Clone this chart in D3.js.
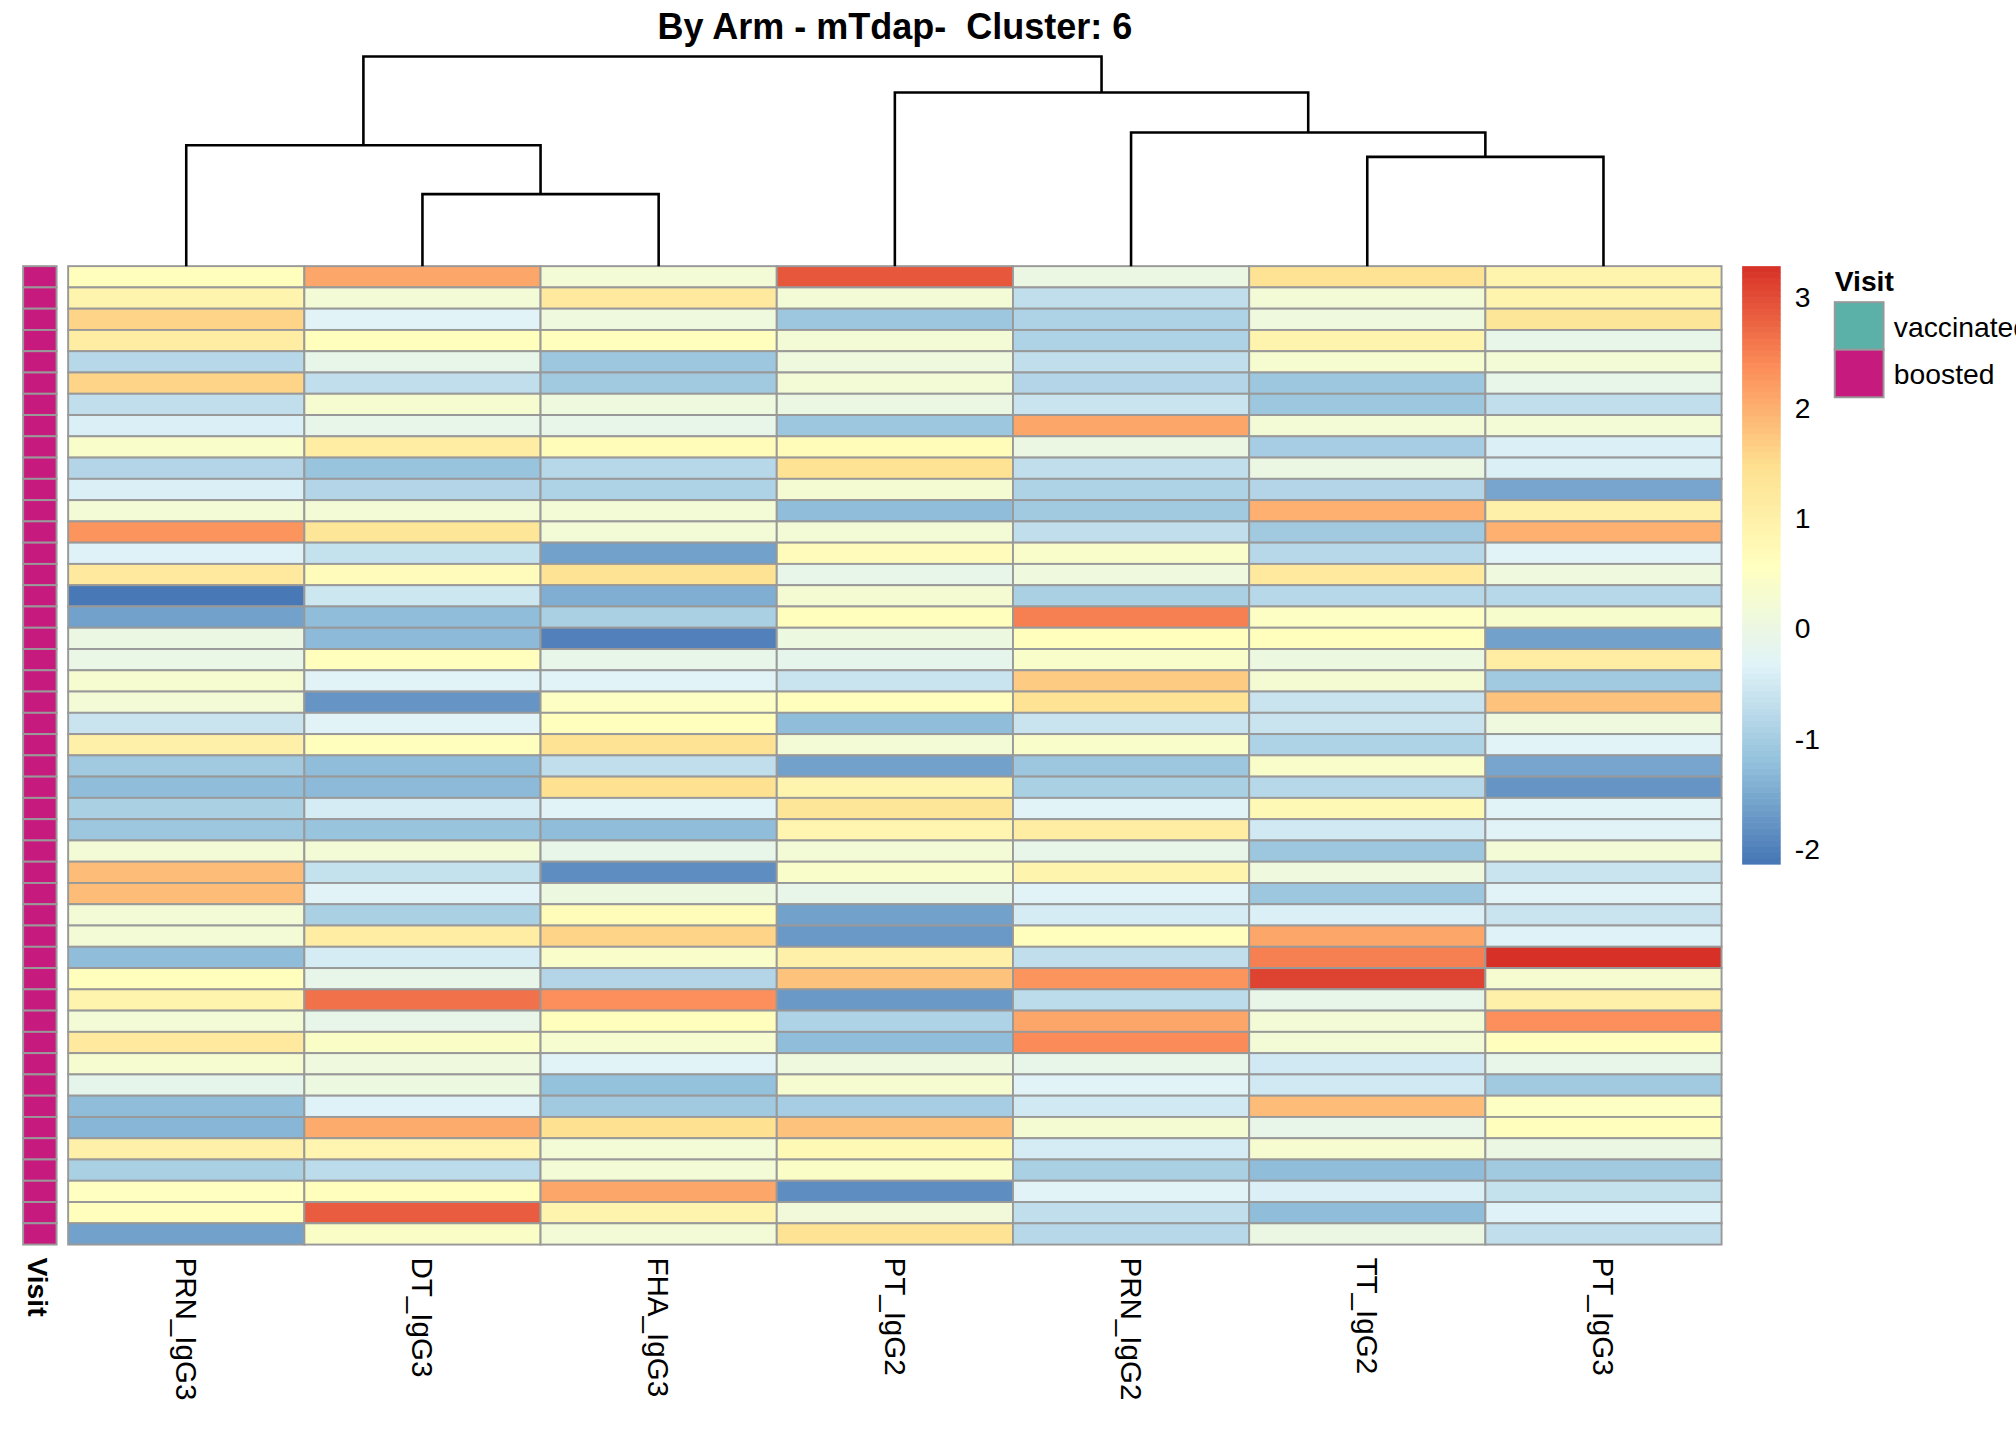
<!DOCTYPE html>
<html>
<head>
<meta charset="utf-8">
<script src="https://cdn.jsdelivr.net/npm/d3@7"></script>
<style>
  body { margin: 0; background: #fff; }
  text { font-family: "Liberation Sans", Arial, sans-serif; }
</style>
</head>
<body>
<svg id="chart"></svg>
<script>
// column labels, in dendrogram order
const columns = ['PRN_IgG3', 'DT_IgG3', 'FHA_IgG3', 'PT_IgG2', 'PRN_IgG2', 'TT_IgG2', 'PT_IgG3'];

// one row per sample, values per column (scaled)
const values = [
  [0.6, 2.1, 0.2, 2.9, 0.0, 1.4, 0.9],
  [0.9, 0.2, 1.2, 0.2, -0.7, 0.2, 0.9],
  [1.6, -0.3, 0.1, -1.1, -0.9, 0.1, 1.3],
  [1.1, 0.6, 0.6, 0.2, -0.9, 0.9, -0.1],
  [-0.8, -0.1, -1.1, 0.1, -0.7, 0.3, 0.2],
  [1.6, -0.7, -1.05, 0.2, -0.85, -1.1, -0.1],
  [-0.7, 0.3, 0.1, 0.0, -0.6, -1.1, -0.7],
  [-0.4, -0.1, -0.1, -1.1, 2.1, 0.2, 0.2],
  [0.4, 1.1, 0.7, 0.7, 0.0, -1.0, -0.4],
  [-0.85, -1.15, -0.8, 1.4, -0.7, 0.0, -0.4],
  [-0.4, -0.85, -0.9, 0.25, -0.9, -0.85, -1.55],
  [0.2, 0.2, 0.2, -1.25, -1.05, 2.0, 1.0],
  [2.3, 1.3, 0.2, 0.2, -0.7, -1.05, 2.0],
  [-0.35, -0.65, -1.6, 0.65, 0.4, -0.8, -0.3],
  [1.2, 0.65, 1.4, -0.1, 0.1, 1.2, 0.1],
  [-2.1, -0.55, -1.45, 0.25, -0.95, -0.8, -0.8],
  [-1.6, -1.25, -0.95, 0.6, 2.5, 0.5, 0.35],
  [0.0, -1.3, -2.0, 0.05, 0.6, 0.6, -1.6],
  [-0.05, 0.6, -0.1, -0.15, 0.4, 0.05, 1.1],
  [0.3, -0.3, -0.3, -0.6, 1.7, 0.25, -1.05],
  [0.2, -1.75, 0.5, 0.6, 1.4, -0.6, 1.8],
  [-0.6, -0.3, 0.6, -1.25, -0.6, -0.6, 0.1],
  [1.0, 0.6, 1.4, 0.2, 0.4, -0.9, -0.3],
  [-1.05, -1.25, -0.7, -1.6, -1.1, 0.4, -1.55],
  [-1.25, -1.3, 1.45, 0.9, -0.95, -0.8, -1.75],
  [-0.95, -0.45, -0.3, 1.3, -0.3, 0.75, -0.3],
  [-1.1, -1.15, -1.25, 0.85, 1.1, -0.5, -0.3],
  [0.2, 0.2, -0.1, 0.2, -0.1, -1.1, 0.2],
  [1.85, -0.65, -1.85, 0.4, 0.9, 0.1, -0.6],
  [1.85, -0.3, 0.05, -0.1, -0.3, -1.1, -0.3],
  [0.2, -0.95, 0.7, -1.6, -0.45, -0.4, -0.6],
  [0.2, 1.1, 1.6, -1.7, 0.6, 2.1, -0.35],
  [-1.25, -0.45, 0.4, 1.0, -0.7, 2.5, 3.28],
  [0.6, -0.1, -0.85, 1.8, 2.3, 3.1, 0.3],
  [0.9, 2.65, 2.35, -1.7, -0.75, -0.1, 1.0],
  [0.2, -0.1, 0.6, -0.9, 2.1, 0.2, 2.35],
  [1.2, 0.45, 0.3, -1.25, 2.4, 0.2, 0.6],
  [0.3, 0.1, -0.3, 0.1, -0.1, -0.5, -0.1],
  [-0.15, 0.05, -1.2, 0.3, -0.3, -0.5, -1.05],
  [-1.25, -0.35, -1.05, -1.0, -0.5, 1.85, 0.5],
  [-1.35, 2.05, 1.45, 1.8, 0.25, -0.1, 0.6],
  [1.0, 0.85, 0.2, 0.75, -0.45, 0.3, 0.0],
  [-0.95, -0.75, 0.2, 0.45, -0.95, -1.25, -1.05],
  [0.55, 0.6, 2.1, -1.85, -0.3, -0.4, -0.65],
  [0.6, 2.85, 0.9, 0.15, -0.7, -1.25, -0.35],
  [-1.6, 0.45, 0.2, 1.4, -0.8, 0.0, -0.7]
];

// Visit annotation per row (all boosted)
const visit = values.map(() => 'boosted');
const visitLevels = ['vaccinated', 'boosted'];
const visitColors = ['#5BB1A8', '#C71A7E'];

// column dendrogram merges: [left, right, height, leftIsLeaf, rightIsLeaf]
// leaf ids index into columns, node ids index into earlier merges
const merges = [
  [1, 2, 56, true, true],     // DT_IgG3 + FHA_IgG3 -> node 0
  [0, 0, 94, true, false],    // PRN_IgG3 + node 0 -> node 1
  [5, 6, 85, true, true],     // TT_IgG2 + PT_IgG3 -> node 2
  [4, 2, 104, true, false],   // PRN_IgG2 + node 2 -> node 3
  [3, 3, 135, true, false],   // PT_IgG2 + node 3 -> node 4
  [1, 4, 163, false, false]   // root
];

const legendTicks = [-2, -1, 0, 1, 2, 3];
const valMin = -2.14, valMax = 3.28;

const W = 1568, H = 1120;
const svg = d3.select('#chart')
  .attr('width', 2016).attr('height', 1440)
  .attr('viewBox', `0 0 ${W} ${H}`);

const hmLeft = 53, hmRight = 1339, hmTop = 207, hmBottom = 968;

const x = d3.scaleBand().domain(columns).range([hmLeft, hmRight]);
const y = d3.scaleBand().domain(d3.range(values.length)).range([hmTop, hmBottom]);

const palette = ['#4575B4', '#91BFDB', '#E0F3F8', '#FFFFBF', '#FEE090', '#FC8D59', '#D73027'];
const color = d3.scaleLinear()
  .domain(d3.range(7).map(i => valMin + i * (valMax - valMin) / 6))
  .range(palette).clamp(true);

// title (keep the double space)
svg.append('text')
  .attr('x', 696).attr('y', 30)
  .attr('text-anchor', 'middle')
  .attr('xml:space', 'preserve')
  .style('white-space', 'pre')
  .style('font-size', '28px').style('font-weight', 'bold')
  .text('By Arm - mTdap-  Cluster: 6');

// heatmap cells
const cells = [];
values.forEach((row, r) => row.forEach((v, c) => cells.push({ r, c, v })));
svg.append('g').selectAll('rect')
  .data(cells).enter().append('rect')
    .attr('x', d => x(columns[d.c]))
    .attr('y', d => y(d.r))
    .attr('width', x.bandwidth())
    .attr('height', y.bandwidth())
    .attr('fill', d => color(d.v))
    .attr('stroke', '#999').attr('stroke-width', 1.5);

// visit annotation column
svg.append('g').selectAll('rect')
  .data(visit).enter().append('rect')
    .attr('x', 18).attr('y', (d, i) => y(i))
    .attr('width', 26).attr('height', y.bandwidth())
    .attr('fill', d => visitColors[visitLevels.indexOf(d)])
    .attr('stroke', '#999').attr('stroke-width', 1.5);

svg.append('text')
  .attr('transform', 'translate(22,978) rotate(90)')
  .style('font-size', '22px').style('font-weight', 'bold')
  .text('Visit');

// column labels
svg.append('g').selectAll('text')
  .data(columns).enter().append('text')
    .attr('transform', d => `translate(${x(d) + x.bandwidth() / 2 - 8},${hmBottom + 10}) rotate(90)`)
    .style('font-size', '23px')
    .text(d => d);

// dendrogram
const hy = d3.scaleLinear().domain([0, 163]).range([hmTop, 44]);
const nodes = [];
const pos = (id, isLeaf) => isLeaf ? { x: x(columns[id]) + x.bandwidth() / 2, h: 0 } : nodes[id];
const dg = svg.append('g').attr('fill', 'none').attr('stroke', '#000').attr('stroke-width', 2);
merges.forEach(m => {
  const a = pos(m[0], m[3]);
  const b = pos(m[1], m[4]);
  dg.append('path')
    .attr('d', `M${a.x},${hy(a.h)}V${hy(m[2])}H${b.x}V${hy(b.h)}`);
  nodes.push({ x: (a.x + b.x) / 2, h: m[2] });
});

// colour bar legend
const ly = d3.scaleLinear().domain([valMin, valMax]).range([672, 207]);
const steps = d3.range(100).map(i => valMin + (i + 0.5) * (valMax - valMin) / 100);
svg.append('g').selectAll('rect')
  .data(steps).enter().append('rect')
    .attr('x', 1355).attr('width', 30)
    .attr('y', d => ly(d) - 465 / 200)
    .attr('height', 465 / 100 + 0.5)
    .attr('fill', d => color(d));
svg.append('g').selectAll('text')
  .data(legendTicks).enter().append('text')
    .attr('x', 1396).attr('y', d => ly(d) + 8)
    .style('font-size', '22px')
    .text(d => d);

// Visit legend
svg.append('text').attr('x', 1427).attr('y', 226)
  .style('font-size', '22px').style('font-weight', 'bold').text('Visit');
const vl = svg.append('g').selectAll('g')
  .data(visitLevels).enter().append('g')
    .attr('transform', (d, i) => `translate(1427,${235 + i * 37})`);
vl.append('rect').attr('width', 38).attr('height', 37)
  .attr('fill', (d, i) => visitColors[i]).attr('stroke', '#999').attr('stroke-width', 1.5);
vl.append('text').attr('x', 46).attr('y', 27)
  .style('font-size', '22px').text(d => d);
</script>
</body>
</html>
